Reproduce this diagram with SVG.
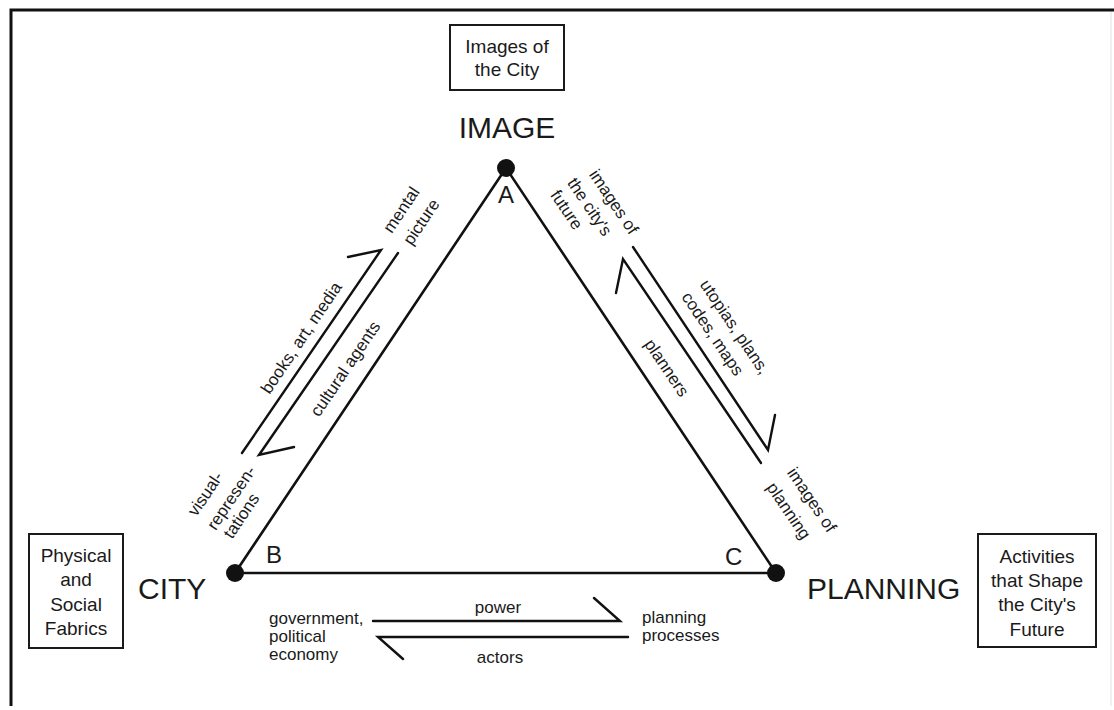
<svg xmlns="http://www.w3.org/2000/svg" width="1114" height="710" viewBox="0 0 1114 710">
<style>
text{font-family:"Liberation Sans",Arial,Helvetica,sans-serif;fill:#1a1a1a}
.box{fill:none;stroke:#1a1a1a;stroke-width:2}
.big{font-size:30px}
.letter{font-size:24px}
.boxt{font-size:19px;text-anchor:middle}
.lbl{font-size:17px;text-anchor:middle}
.side{fill:none;stroke:#111;stroke-width:2.6;stroke-linecap:round;stroke-linejoin:round}
.arr{fill:none;stroke:#111;stroke-width:2.4;stroke-linecap:round;stroke-linejoin:miter}
</style>
<rect width="1114" height="710" fill="#fff"/>
<g id="frame">
<path d="M11 706 V10 H1114" fill="none" stroke="#111" stroke-width="3"/>
<line x1="1111" y1="12" x2="1111" y2="706" stroke="#e2e2e2" stroke-width="1"/>
</g>
<g id="connectors">
<path class="side" d="M506 168 L235 573 L776 573 Z"/>
<!-- left: image <-> city -->
<path class="arr" d="M242 453 L381 250 L348 257"/>
<path class="arr" d="M398 253 L259 455 L294 447"/>
<text class="lbl" transform="translate(306 341) rotate(-56)">books, art, media</text>
<text class="lbl" transform="translate(350 372) rotate(-56)">cultural agents</text>
<text class="lbl" transform="translate(406 213) rotate(-56)">mental</text>
<text class="lbl" transform="translate(426 225) rotate(-56)">picture</text>
<text class="lbl" transform="translate(210 497) rotate(-56)">visual-</text>
<text class="lbl" transform="translate(236 501) rotate(-56)">represen-</text>
<text class="lbl" transform="translate(246 519) rotate(-56)">tations</text>
<!-- right: image <-> planning -->
<path class="arr" d="M633 247 L768 450 L775 415"/>
<path class="arr" d="M761 463 L623 259 L616 293"/>
<text class="lbl" transform="translate(609 205) rotate(56)">images of</text>
<text class="lbl" transform="translate(585 210) rotate(56)">the city's</text>
<text class="lbl" transform="translate(562 213) rotate(56)">future</text>
<text class="lbl" transform="translate(730 330) rotate(56)">utopias, plans,</text>
<text class="lbl" transform="translate(708 337) rotate(56)">codes, maps</text>
<text class="lbl" transform="translate(662 371) rotate(56)">planners</text>
<text class="lbl" transform="translate(807 503) rotate(56)">images of</text>
<text class="lbl" transform="translate(784 514) rotate(56)">planning</text>
<!-- bottom: city <-> planning -->
<path class="arr" d="M373 621 L620 621 L594 598"/>
<path class="arr" d="M628 637 L378 637 L403 659"/>
<text class="lbl" x="498" y="613">power</text>
<text class="lbl" x="500" y="663">actors</text>
<text style="font-size:17px" x="269" y="624">government,</text>
<text style="font-size:17px" x="269" y="642">political</text>
<text style="font-size:17px" x="269" y="660">economy</text>
<text style="font-size:17px" x="642" y="623">planning</text>
<text style="font-size:17px" x="642" y="641">processes</text>
</g>
<g id="node-image">
<rect class="box" x="450" y="25" width="114" height="65"/>
<text class="boxt" x="507" y="53">Images of</text>
<text class="boxt" x="507" y="76">the City</text>
<text class="big" x="507" y="138" text-anchor="middle">IMAGE</text>
<circle cx="506" cy="168" r="9" fill="#111"/>
<text class="letter" x="506" y="203" text-anchor="middle">A</text>
</g>
<g id="node-city">
<rect class="box" x="29" y="534" width="94" height="114"/>
<text class="boxt" x="76" y="562">Physical</text>
<text class="boxt" x="76" y="586">and</text>
<text class="boxt" x="76" y="611">Social</text>
<text class="boxt" x="76" y="635">Fabrics</text>
<text class="big" x="138" y="599">CITY</text>
<circle cx="235" cy="573" r="9" fill="#111"/>
<text class="letter" x="266" y="563">B</text>
</g>
<g id="node-planning">
<rect class="box" x="978" y="534" width="118" height="113"/>
<text class="boxt" x="1037" y="563">Activities</text>
<text class="boxt" x="1037" y="587">that Shape</text>
<text class="boxt" x="1037" y="611">the City's</text>
<text class="boxt" x="1037" y="636">Future</text>
<text class="big" x="807" y="599">PLANNING</text>
<circle cx="776" cy="573" r="9" fill="#111"/>
<text class="letter" x="725" y="565">C</text>
</g>
</svg>
